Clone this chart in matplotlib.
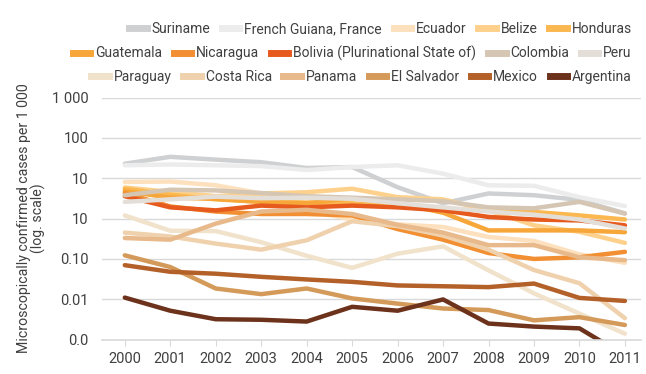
import numpy as np
import matplotlib
matplotlib.use('Agg')
import matplotlib.pyplot as plt
from matplotlib.lines import Line2D

plt.rcParams['font.family'] = ['Roboto', 'DejaVu Sans']

# Confirmed malaria cases per 1 000 population
years = list(range(2000, 2012))

suriname      = [23, 34, 29, 25, 18, 19, 6.0, 2.4, 4.2, 3.8, 2.9, 1.35]
french_guiana = [21, 22, 21, 20, 16, 19, 21, 13, 6.7, 6.5, 3.4, 2.05]
ecuador       = [8.1, 8.3, 6.7, 4.2, 1.6, 0.95, 0.72, 0.62, 0.35, 0.28, 0.13, 0.08]
belize        = [5.9, 4.6, 3.6, 4.2, 4.5, 5.5, 3.4, 3.0, 1.6, 0.68, 0.47, 0.25]
honduras      = [5.5, 3.9, 3.0, 2.6, 2.5, 2.4, 2.0, 1.7, 1.6, 1.46, 1.2, 0.95]
guatemala     = [4.8, 3.3, 3.1, 2.6, 2.4, 3.2, 2.4, 1.4, 0.51, 0.51, 0.51, 0.46]
nicaragua     = [4.3, 2.0, 1.5, 1.3, 1.3, 1.2, 0.55, 0.3, 0.14, 0.10, 0.11, 0.15]
bolivia       = [3.6, 1.9, 1.6, 2.1, 1.9, 2.1, 1.9, 1.6, 1.1, 0.95, 0.9, 0.68]
colombia      = [3.8, 5.2, 5.0, 4.3, 3.6, 3.3, 3.0, 2.7, 1.9, 1.8, 2.6, 1.33]
peru          = [2.6, 3.0, 3.5, 3.2, 3.3, 3.1, 2.4, 1.9, 1.5, 1.25, 0.95, 0.57]
paraguay      = [1.2, 0.5, 0.49, 0.26, 0.12, 0.06, 0.135, 0.205, 0.052, 0.014, 0.0044, 0.0014]
costa_rica    = [0.45, 0.36, 0.24, 0.17, 0.29, 0.86, 0.65, 0.38, 0.17, 0.053, 0.025, 0.0034]
panama        = [0.33, 0.30, 0.75, 1.5, 1.65, 1.3, 0.7, 0.45, 0.22, 0.22, 0.11, 0.093]
el_salvador   = [0.123, 0.063, 0.0185, 0.0134, 0.0185, 0.0105, 0.0078, 0.0059, 0.0054, 0.0030, 0.0036, 0.0023]
mexico        = [0.070, 0.048, 0.043, 0.036, 0.031, 0.027, 0.022, 0.021, 0.020, 0.0245, 0.0108, 0.0091]
argentina     = [0.011, 0.0052, 0.0032, 0.0031, 0.0028, 0.0065, 0.0052, 0.0099, 0.0025, 0.0021, 0.0019, 0.0004]

names = ['Suriname', 'French Guiana, France', 'Ecuador', 'Belize', 'Honduras',
         'Guatemala', 'Nicaragua', 'Bolivia (Plurinational State of)', 'Colombia', 'Peru',
         'Paraguay', 'Costa Rica', 'Panama', 'El Salvador', 'Mexico', 'Argentina']
series = [suriname, french_guiana, ecuador, belize, honduras,
          guatemala, nicaragua, bolivia, colombia, peru,
          paraguay, costa_rica, panama, el_salvador, mexico, argentina]
colors = ['#cfd0d2', '#ebeceb', '#fde0bd', '#fdd18b', '#fbb851',
          '#f7a63a', '#f18f32', '#e65a1e', '#d5c5b3', '#e4ded8',
          '#f1e2cb', '#efd2ad', '#e8b98b', '#d49a5a', '#b46029', '#6c321c']

ytick_vals = [1000, 100, 10, 1, 0.1, 0.01, 0.001]
ytick_labels = ['1 000', '100', '10', '10', '0.10', '0.01', '0.0']

text_col = '#404040'
grid_col = '#d9d9d9'

fig = plt.figure(figsize=(6.46, 3.74), dpi=100)
ax = fig.add_axes([0.158, 0.092, 0.834, 0.647])

for vals, c in zip(series, colors):
    ax.plot(years, vals, color=c, lw=3.2, solid_joinstyle='round', solid_capstyle='round')

ax.set_yscale('log')
ax.set_ylim(0.001, 1000)
ax.set_xlim(1999.5, 2011.35)
ax.set_yticks(ytick_vals)
ax.set_yticklabels(ytick_labels)
ax.yaxis.set_minor_locator(matplotlib.ticker.NullLocator())
ax.set_xticks(years)
ax.set_xticklabels([str(y) for y in years])

ax.grid(axis='y', color=grid_col, lw=1)
ax.set_axisbelow(True)
for s in ['top', 'right', 'left']:
    ax.spines[s].set_visible(False)
ax.spines['bottom'].set_color(grid_col)
ax.spines['bottom'].set_linewidth(1.2)
ax.tick_params(axis='y', length=0, pad=10, labelsize=10.5, labelcolor=text_col)
ax.tick_params(axis='x', length=4, color=grid_col, pad=5, labelsize=10.5, labelcolor=text_col)

ax.set_ylabel('Microscopically confirmed cases per 1 000\n(log. scale)',
              fontsize=10.2, color=text_col, linespacing=1.0, labelpad=4)

# legend in three right-aligned rows
rows = [(0, 5), (5, 10), (10, 16)]
row_y = [0.922, 0.858, 0.795]
for (a, b), yy in zip(rows, row_y):
    handles = [Line2D([], [], color=colors[i], lw=5) for i in range(a, b)]
    leg = fig.legend(handles, names[a:b], ncol=b - a, loc='center right',
                     bbox_to_anchor=(0.978, yy), frameon=False, fontsize=10,
                     handlelength=1.25, handletextpad=0.35, columnspacing=0.85,
                     borderpad=0, borderaxespad=0)
    for t in leg.get_texts():
        t.set_color(text_col)

fig.savefig('out.png', dpi=100)
